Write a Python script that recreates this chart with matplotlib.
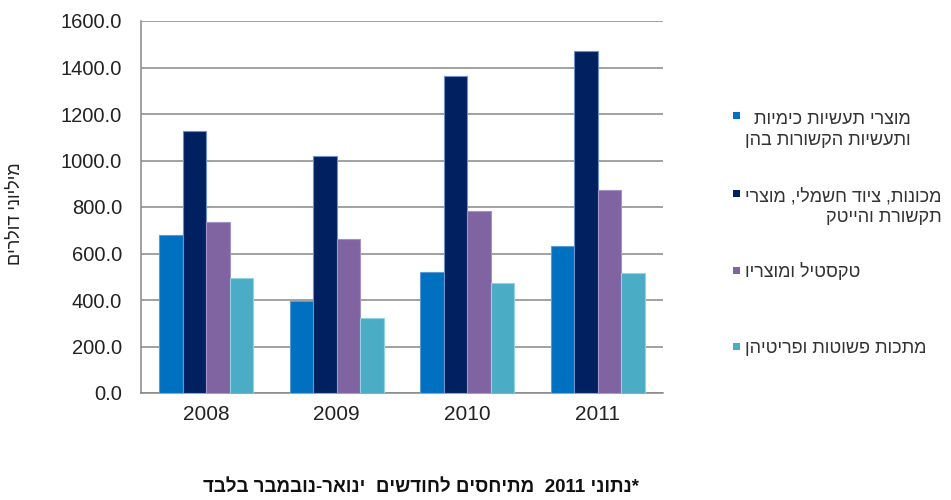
"""Grouped bar chart: exports by industry group, 2008-2011 (Hebrew labels)."""

import re

import matplotlib
matplotlib.use("Agg")
import matplotlib.pyplot as plt
from matplotlib.patches import Rectangle
import numpy as np

plt.rcParams["font.family"] = ["Liberation Sans", "DejaVu Sans"]

years = ["2008", "2009", "2010", "2011"]
chemicals = [681, 394, 520, 631]
machinery = [1125, 1021, 1363, 1472]
textiles = [735, 664, 781, 873]
metals = [493, 323, 471, 516]

series_labels = [
    "מוצרי תעשיות כימיות\nותעשיות הקשורות בהן",
    "מכונות, ציוד חשמלי, מוצרי\nתקשורת והייטק",
    "טקסטיל ומוצריו",
    "מתכות פשוטות ופריטיהן",
]
y_label = "מיליוני דולרים"
footnote = "*נתוני 2011  מתיחסים לחודשים  ינואר-נובמבר בלבד"

colors = ["#0070C0", "#002060", "#8064A2", "#4BACC6"]
edges = ["#5a9bd5", "#6f8fc8", "#a390c4", "#92d2e2"]


def rtl(s):
    # matplotlib lays glyphs out left to right, so build the visual order
    out = []
    for line in s.split("\n"):
        rev = line[::-1]
        out.append(re.sub(r"\d+", lambda m: m.group(0)[::-1], rev))
    return "\n".join(out)


W, H = 951, 500
fig = plt.figure(figsize=(W / 100, H / 100), dpi=100)
ax = fig.add_axes([141 / W, 1 - 393 / H, 522 / W, 372 / H])

data = [chemicals, machinery, textiles, metals]
x = np.arange(len(years))
bw = 0.18
for i, vals in enumerate(data):
    ax.bar(x + (i - 1.5) * bw, vals, bw, color=colors[i], edgecolor=edges[i],
           linewidth=0.8, zorder=3)

ax.set_xlim(-0.5, len(years) - 0.5)
ax.set_ylim(0, 1600)
ax.set_yticks(np.arange(0, 1601, 200))
ax.yaxis.set_major_formatter(matplotlib.ticker.FormatStrFormatter("%.1f"))
ax.set_xticks(x)
ax.set_xticklabels(years)
ax.tick_params(axis="both", length=0, colors="#222222")
ax.tick_params(axis="y", pad=13.5, labelsize=14.5)
ax.tick_params(axis="x", pad=9, labelsize=15)
ax.grid(axis="y", color="#878787", linewidth=1.1, zorder=0)
for side in ["top", "right"]:
    ax.spines[side].set_visible(False)
for side in ["left", "bottom"]:
    ax.spines[side].set_color("#878787")
    ax.spines[side].set_linewidth(1.1)

fig.text(15 / W, 1 - 214 / H, rtl(y_label), rotation=90, ha="center",
         va="center", fontsize=13, color="#222222")

# legend, drawn by hand to match the spacing of the source
marker_y = [115.5, 193, 270, 346]
text_y = [130, 207, 272, 348]
for i, lab in enumerate(series_labels):
    fig.patches.append(Rectangle((733 / W, 1 - (marker_y[i] + 3.5) / H), 7 / W, 7 / H,
                                 transform=fig.transFigure, facecolor=colors[i],
                                 edgecolor="none"))
    fig.text(745 / W, 1 - text_y[i] / H, rtl(lab), ha="left", va="center",
             multialignment="right", fontsize=13, color="#333333", linespacing=1.3)

fig.text(421 / W, 1 - 487 / H, rtl(footnote), ha="center", va="center",
         fontsize=13.5, fontweight="bold", color="#111111")

fig.savefig("out.png", dpi=100)
